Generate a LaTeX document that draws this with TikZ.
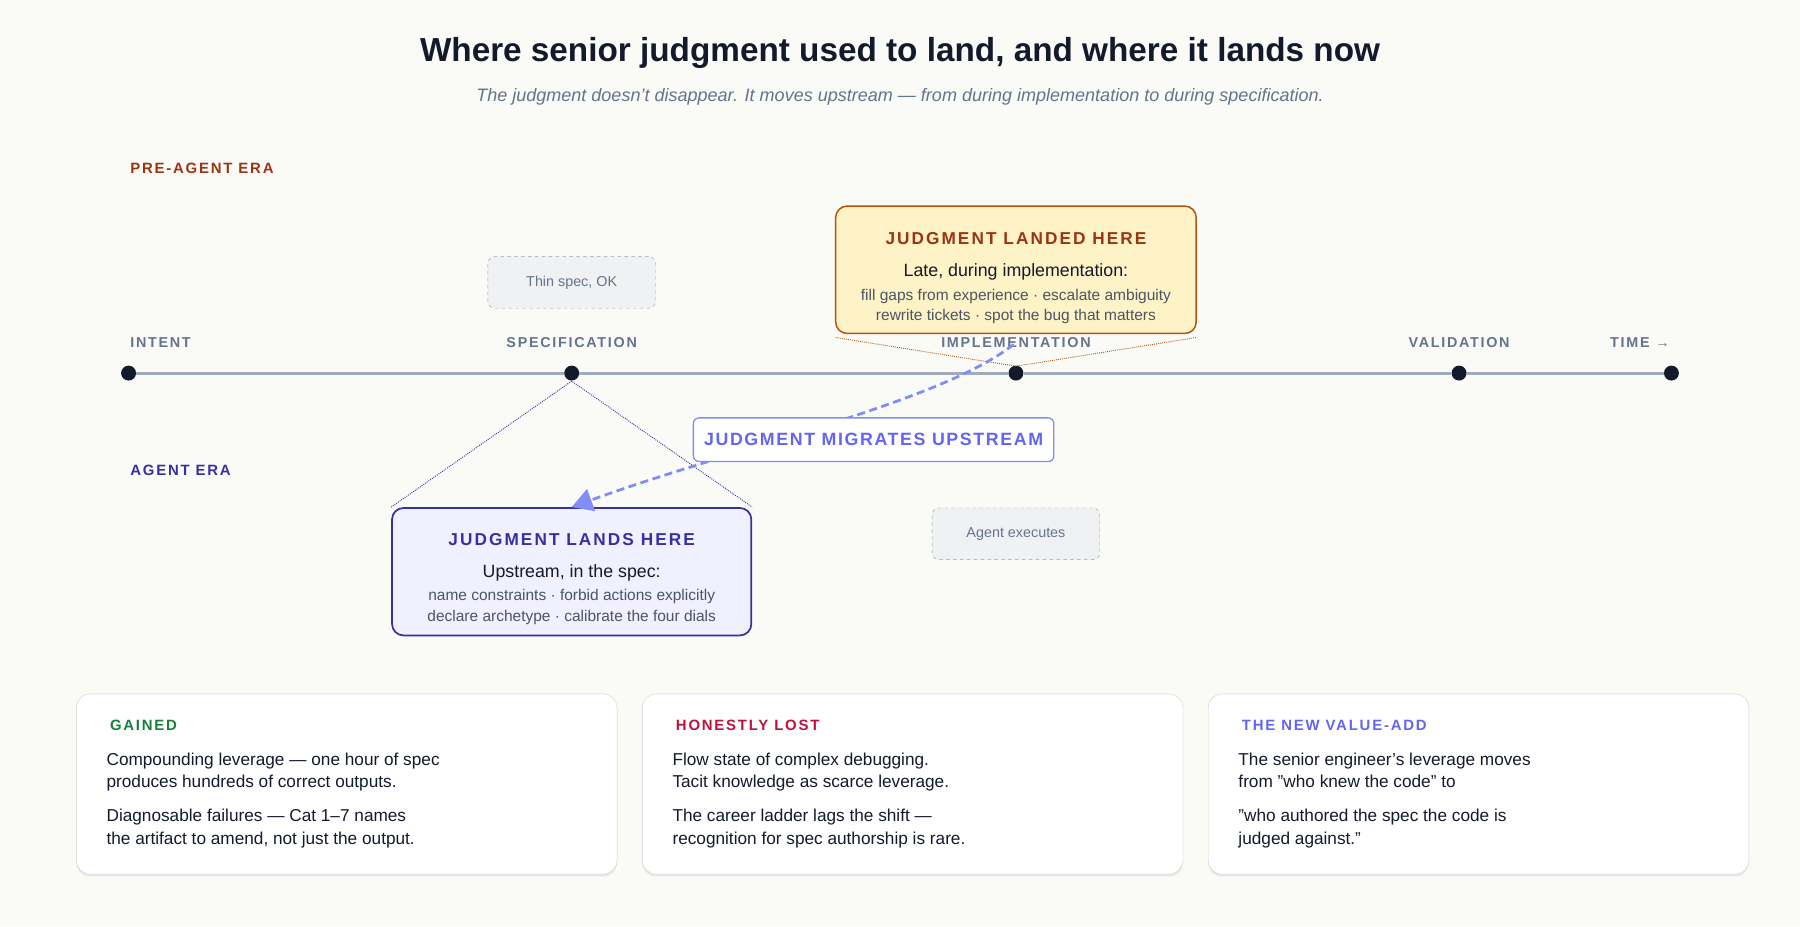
\documentclass[tikz,border=0pt]{standalone}
\usepackage{fontspec}
\setmainfont{Liberation Sans}
\usetikzlibrary{positioning, arrows.meta, shadows, calc}
\definecolor{paper}{HTML}{FAFAF6}
\definecolor{ink}{HTML}{131A2B}
\definecolor{slate}{HTML}{64748B}
\definecolor{muted}{HTML}{4B5563}
\definecolor{rust}{HTML}{9A3412}
\definecolor{amber}{HTML}{B45309}
\definecolor{cream}{HTML}{FEF3C7}
\definecolor{indigo}{HTML}{3730A3}
\definecolor{violet}{HTML}{6366F1}
\definecolor{lilac}{HTML}{818CF8}
\definecolor{leaf}{HTML}{15803D}
\definecolor{crimson}{HTML}{BE123C}
\newcommand{\Caps}[1]{{\addfontfeature{LetterSpace=12}#1}}
\newcommand{\Qt}{\symbol{34}}
\tikzset{
    era/.style={anchor=west, font=\fontsize{13}{15}\selectfont\bfseries},
    stage/.style={font=\fontsize{12.5}{15}\selectfont\bfseries, text=slate},
    dot/.style={circle, fill=ink, inner sep=0pt, minimum size=13pt},
    ghost/.style={draw=slate!70, dashed, rounded corners=6pt, fill=slate!10, minimum width=146pt, minimum height=45pt, font=\fontsize{12.5}{15}\selectfont, text=slate},
    card/.style={draw=gray!35, fill=white, rounded corners=12pt, minimum width=471pt, minimum height=157pt, drop shadow={shadow xshift=0pt, shadow yshift=-2pt, opacity=0.15}},
    cardhead/.style={anchor=west, font=\fontsize{13}{15}\selectfont\bfseries},
    cardtext/.style={anchor=north west, align=left, text=ink, font=\fontsize{15}{20}\selectfont},
}
\begin{document}
\begin{tikzpicture}[x=1pt, y=-1pt]
    \fill[paper] (0,0) rectangle (1568,807);
    \useasboundingbox (0,0) rectangle (1568,807);

    % heading
    \node[text=ink, font=\fontsize{29}{34}\selectfont\bfseries] (title) at (784,46) {Where senior judgment used to land, and where it lands now};
    \node[text=slate, font=\fontsize{15.7}{20}\selectfont\itshape] (sub) at (784,84) {The judgment doesn't disappear. It moves upstream — from during implementation to during specification.};

    % eras
    \node[era, text=rust] (pre) at (110,147) {\Caps{PRE-AGENT ERA}};
    \node[era, text=indigo] (agent) at (110,410) {\Caps{AGENT ERA}};

    % timeline
    \node[dot] (intent) at (112,325) {};
    \node[dot] (spec) at (498,325) {};
    \node[dot] (impl) at (885,325) {};
    \node[dot] (valid) at (1271,325) {};
    \node[dot] (time) at (1456,325) {};
    \draw[line width=2.5pt, slate!60] (intent) -- (spec) -- (impl) -- (valid) -- (time);
    \node[stage, anchor=west] at (110,298) {\Caps{INTENT}};
    \node[stage] at (498,298) {\Caps{SPECIFICATION}};
    \node[stage] at (885,298) {\Caps{IMPLEMENTATION}};
    \node[stage] at (1271,298) {\Caps{VALIDATION}};
    \node[stage, anchor=east] at (1458,298) {\Caps{TIME →}};

    % pre-agent
    \node[ghost] (thin) at (498,246) {Thin spec, OK};
    \node[draw=amber, line width=1.3pt, fill=cream, rounded corners=10pt, minimum width=314pt, minimum height=111pt] (landed) at (885,235) {};
    \node[text=rust, font=\fontsize{15}{18}\selectfont\bfseries] at (885,208) {\Caps{JUDGMENT LANDED HERE}};
    \node[text=ink, font=\fontsize{15.5}{18}\selectfont] at (885,237) {Late, during implementation:};
    \node[text=muted, align=center, font=\fontsize{13.5}{18}\selectfont] at (885,267) {fill gaps from experience · escalate ambiguity\\rewrite tickets · spot the bug that matters};
    \coordinate (lw) at (728,294);
    \coordinate (le) at (1042,294);
    \coordinate (lp) at (885,319);
    \draw[amber, densely dotted, thick] (lw) -- (lp) -- (le);

    % agent
    \node[draw=indigo, line width=1.5pt, fill=blue!6, rounded corners=10pt, minimum width=313pt, minimum height=111pt] (lands) at (498,498) {};
    \node[text=indigo, font=\fontsize{15}{18}\selectfont\bfseries] at (498,470) {\Caps{JUDGMENT LANDS HERE}};
    \node[text=ink, font=\fontsize{15.5}{18}\selectfont] at (498,499) {Upstream, in the spec:};
    \node[text=muted, align=center, font=\fontsize{13.5}{18}\selectfont] at (498,529) {name constraints · forbid actions explicitly\\declare archetype · calibrate the four dials};
    \coordinate (sp) at (498,332);
    \draw[indigo, densely dotted, thick] (lands.north west) -- (sp) -- (lands.north east);
    \node[ghost] (exec) at (885,465) {Agent executes};

    % migration
    \coordinate (from) at (883,300);
    \draw[lilac, dash pattern=on 7pt off 4pt, line width=2.4pt, -{Triangle[length=18pt, width=20pt]}] (from) .. controls (820,350) and (640,390) .. (lands.north);
    \node[draw=lilac, line width=1.1pt, fill=white, rounded corners=5pt, minimum width=314pt, minimum height=38pt, text=violet, font=\fontsize{15.5}{18}\selectfont\bfseries] (migr) at (761,383) {{\addfontfeature{LetterSpace=9}JUDGMENT MIGRATES UPSTREAM}};

    % cards
    \node[card] (gained) at (302,683) {};
    \node[card] (lost) at (795,683) {};
    \node[card] (value) at (1288,683) {};
    \node[cardhead, text=leaf] at ($(gained.west)+(26,-51)$) {\Caps{GAINED}};
    \node[cardtext] at ($(gained.west)+(23,-31)$) {Compounding leverage — one hour of spec\\produces hundreds of correct outputs.\\[9pt]Diagnosable failures — Cat 1–7 names\\the artifact to amend, not just the output.};
    \node[cardhead, text=crimson] at ($(lost.west)+(26,-51)$) {\Caps{HONESTLY LOST}};
    \node[cardtext] at ($(lost.west)+(23,-31)$) {Flow state of complex debugging.\\Tacit knowledge as scarce leverage.\\[9pt]The career ladder lags the shift —\\recognition for spec authorship is rare.};
    \node[cardhead, text=violet] at ($(value.west)+(26,-51)$) {\Caps{THE NEW VALUE-ADD}};
    \node[cardtext] at ($(value.west)+(23,-31)$) {The senior engineer's leverage moves\\from \Qt who knew the code\Qt{} to\\[9pt]\Qt who authored the spec the code is\\judged against.\Qt};
\end{tikzpicture}
\end{document}
